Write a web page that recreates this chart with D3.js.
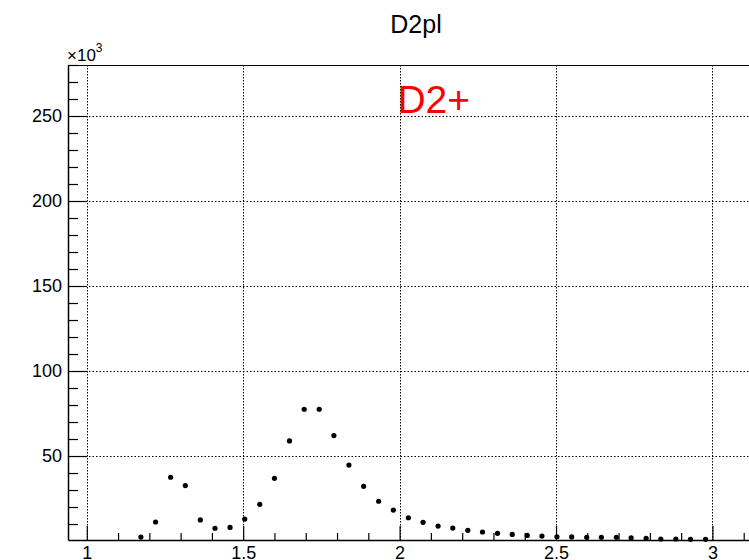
<!DOCTYPE html>
<html>
<head>
<meta charset="utf-8">
<script src="https://cdn.jsdelivr.net/npm/d3@7"></script>
<style>
  html, body { margin: 0; padding: 0; background: #fff; }
  svg { display: block; font-family: "Liberation Sans", Arial, Helvetica, sans-serif; }
</style>
</head>
<body>
<svg id="chart" width="749" height="560"></svg>
<script>
// Bin centres of the D2pl histogram
const binCenters = [
  1.173, 1.220, 1.268, 1.315, 1.363, 1.410, 1.458, 1.505, 1.553, 1.600,
  1.648, 1.695, 1.743, 1.790, 1.838, 1.885, 1.933, 1.980, 2.028, 2.075,
  2.123, 2.170, 2.218, 2.265, 2.313, 2.360, 2.408, 2.455, 2.503, 2.550,
  2.598, 2.645, 2.693, 2.740, 2.788, 2.835, 2.883, 2.930, 2.978
];
// Bin contents (entries)
const binCounts = [
  2300, 11200, 37500, 32600, 12400, 7500, 8000, 12900, 21600, 36900,
  58900, 77500, 77500, 62000, 44700, 32200, 23400, 18200, 13700, 11000,
  8800, 7600, 6300, 5300, 4500, 3900, 3300, 2900, 2500, 2400,
  2200, 2200, 2200, 1800, 1600, 1200, 1200, 1000, 1000
];
// Axis ticks
const xMajorTicks = [1, 1.5, 2, 2.5, 3];
const xMinorTicks = [1.1, 1.2, 1.3, 1.4, 1.6, 1.7, 1.8, 1.9, 2.1, 2.2, 2.3, 2.4,
                     2.6, 2.7, 2.8, 2.9, 3.1];
const xTickLabels = ["1", "1.5", "2", "2.5", "3"];
const yMajorTicks = [50000, 100000, 150000, 200000, 250000];
const yMinorTicks = [10000, 20000, 30000, 40000, 60000, 70000, 80000, 90000,
                     110000, 120000, 130000, 140000, 160000, 170000, 180000, 190000,
                     210000, 220000, 230000, 240000, 260000, 270000, 280000];
const yTickLabels = ["50", "100", "150", "200", "250"];
const xDomain = [0.94, 3.2];
const yDomain = [600, 280000];
const histTitle = "D2pl";
const particleLabel = { text: "D2+", x: 1.993, y: 251600 };

const svg = d3.select("#chart");
const frame = { left: 68, top: 65, bottom: 540, right: 775 };

const x = d3.scaleLinear().domain(xDomain).range([frame.left, frame.right]);
const y = d3.scaleLinear().domain(yDomain).range([frame.bottom, frame.top]);

// grid
const grid = svg.append("g").attr("stroke", "#000").attr("stroke-width", 1).attr("fill", "none");
grid.selectAll("line.gx").data(xMajorTicks).join("line")
  .attr("class", "gx")
  .attr("x1", d => Math.round(x(d)) + 0.5).attr("x2", d => Math.round(x(d)) + 0.5)
  .attr("y1", frame.top).attr("y2", frame.bottom)
  .attr("stroke-dasharray", "1.5,1.5");
grid.selectAll("line.gy").data(yMajorTicks).join("line")
  .attr("class", "gy")
  .attr("y1", d => Math.round(y(d)) + 0.5).attr("y2", d => Math.round(y(d)) + 0.5)
  .attr("x1", frame.left).attr("x2", frame.right)
  .attr("stroke-dasharray", "1.5,2");

// x axis (ticks pointing up into the frame)
svg.append("g").attr("transform", `translate(0,${frame.bottom})`)
  .call(d3.axisBottom(x).tickValues(xMajorTicks).tickSizeInner(-14).tickSizeOuter(0)
        .tickPadding(6).tickFormat((d, i) => xTickLabels[i]));
svg.append("g").attr("transform", `translate(0,${frame.bottom})`)
  .call(d3.axisBottom(x).tickValues(xMinorTicks).tickSizeInner(-7).tickSizeOuter(0)
        .tickFormat(""))
  .call(g => g.select(".domain").remove());

// y axis (ticks pointing right into the frame)
svg.append("g").attr("transform", `translate(${frame.left},0)`)
  .call(d3.axisLeft(y).tickValues(yMajorTicks).tickSizeInner(-19).tickSizeOuter(0)
        .tickPadding(6).tickFormat((d, i) => yTickLabels[i]));
svg.append("g").attr("transform", `translate(${frame.left},0)`)
  .call(d3.axisLeft(y).tickValues(yMinorTicks).tickSizeInner(-10).tickSizeOuter(0)
        .tickFormat(""))
  .call(g => g.select(".domain").remove());

svg.selectAll(".tick text").attr("font-size", 18).attr("fill", "#000")
  .attr("font-family", "'Liberation Sans', Arial, Helvetica, sans-serif");
svg.selectAll(".tick line").attr("stroke", "#000").attr("stroke-width", 1.2);
svg.selectAll(".domain").attr("stroke", "#000").attr("stroke-width", 1.5);

// top edge of the frame
svg.append("line")
  .attr("x1", frame.left).attr("x2", frame.right)
  .attr("y1", frame.top + 0.5).attr("y2", frame.top + 0.5)
  .attr("stroke", "#000").attr("stroke-width", 1.2);

// exponent label of the y axis
const expo = svg.append("text").attr("x", frame.left - 1).attr("y", 61)
  .attr("font-size", 17).attr("fill", "#000");
expo.append("tspan").text("\u00d710");
expo.append("tspan").attr("dy", -9).attr("font-size", 12).text("3");

// markers
svg.append("g").selectAll("circle").data(binCenters).join("circle")
  .attr("cx", d => x(d))
  .attr("cy", (d, i) => y(binCounts[i]))
  .attr("r", 2.6)
  .attr("fill", "#000");

// title
svg.append("text").attr("x", 416).attr("y", 33)
  .attr("text-anchor", "middle").attr("font-size", 25).attr("fill", "#000")
  .text(histTitle);

// particle label
svg.append("text").attr("x", x(particleLabel.x)).attr("y", y(particleLabel.y))
  .attr("font-size", 39).attr("fill", "#ff0000")
  .text(particleLabel.text);
</script>
</body>
</html>
